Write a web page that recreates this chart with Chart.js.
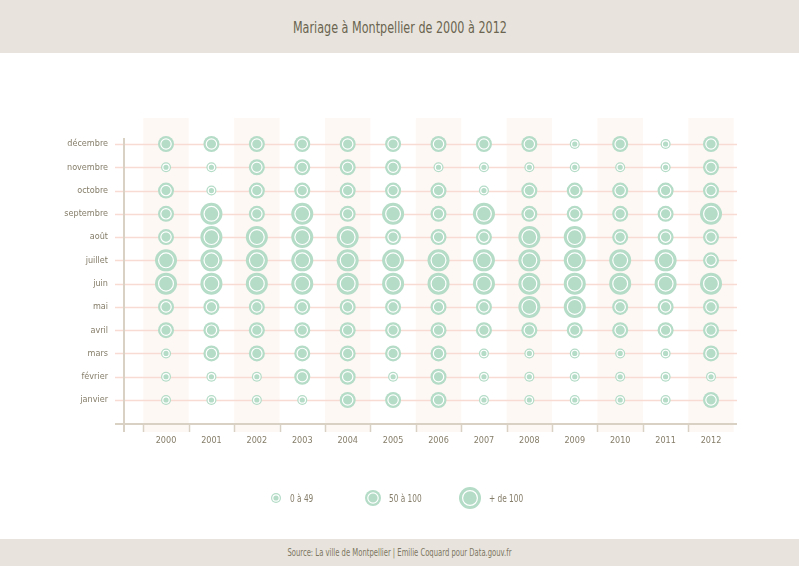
<!DOCTYPE html>
<html lang="fr">
<head>
  <meta charset="UTF-8">
  <title>Mariage à Montpellier de 2000 à 2012</title>
  <script src="https://cdn.jsdelivr.net/npm/chart.js"></script>
  <style>
    body { margin: 0; width: 799px; height: 566px; overflow: hidden; background: #fff;
           font-family: 'DejaVu Sans Condensed', 'DejaVu Sans', sans-serif; }
    #entete { height: 53px; background: #e8e4dd; color: #6b6450; text-align: center; }
    #entete span { display: inline-block; font-size: 15px; line-height: 56px; transform: scaleX(0.83); }
    #graphe { position: relative; width: 799px; height: 486px; }
    #pied { height: 27px; background: #e8e4dd; color: #7d7662; text-align: center; }
    #pied span { display: inline-block; font-size: 10px; line-height: 27px; transform: scaleX(0.76); }
  </style>
</head>
<body>
  <div id="entete"><span>Mariage à Montpellier de 2000 à 2012</span></div>
  <div id="graphe"><canvas id="mariages"></canvas></div>
  <div id="pied"><span>Source: La ville de Montpellier | Emilie Coquard pour Data.gouv.fr</span></div>

  <script>
    // mois de janvier (0) à décembre (11)
    const mois = ["janvier", "février", "mars", "avril", "mai", "juin", "juillet",
                  "août", "septembre", "octobre", "novembre", "décembre"];
    const annees = ["2000", "2001", "2002", "2003", "2004", "2005", "2006",
                    "2007", "2008", "2009", "2010", "2011", "2012"];
    const classes = ["0 à 49", "50 à 100", "+ de 100"];

    // classe de chaque mois (0 = 0 à 49, 1 = 50 à 100, 2 = + de 100), janvier -> décembre
    const m2000 = [0, 0, 0, 1, 1, 2, 2, 1, 1, 1, 0, 1];
    const m2001 = [0, 0, 1, 1, 1, 2, 2, 2, 2, 0, 0, 1];
    const m2002 = [0, 0, 1, 1, 1, 2, 2, 2, 1, 1, 1, 1];
    const m2003 = [0, 1, 1, 1, 1, 2, 2, 2, 2, 1, 1, 1];
    const m2004 = [1, 1, 1, 1, 1, 2, 2, 2, 1, 1, 1, 1];
    const m2005 = [1, 0, 1, 1, 1, 2, 2, 1, 2, 1, 1, 1];
    const m2006 = [1, 1, 1, 1, 1, 2, 2, 1, 1, 1, 0, 1];
    const m2007 = [0, 0, 0, 1, 1, 2, 2, 1, 2, 0, 0, 1];
    const m2008 = [0, 0, 0, 1, 2, 2, 2, 2, 1, 1, 0, 1];
    const m2009 = [0, 0, 0, 1, 2, 2, 2, 2, 1, 1, 0, 0];
    const m2010 = [0, 0, 0, 1, 1, 2, 2, 1, 1, 1, 0, 1];
    const m2011 = [0, 0, 0, 1, 1, 2, 2, 1, 1, 1, 0, 0];
    const m2012 = [1, 0, 1, 1, 1, 2, 1, 1, 2, 1, 1, 1];
    const parAnnee = [m2000, m2001, m2002, m2003, m2004, m2005, m2006,
                      m2007, m2008, m2009, m2010, m2011, m2012];

    const vert = "#b4dcc7";
    const texte = "#857d69";
    const trait = "#d8d1c4";
    const police = "'DejaVu Sans Condensed', 'DejaVu Sans', sans-serif";
    const rayons = [5, 8, 11];
    const anneau = [3.2, 5.2, 7.4];

    const disques = [];
    const cercles = [];
    parAnnee.forEach((valeurs, i) => {
      valeurs.forEach((c, j) => {
        disques.push({ x: i, y: j, r: rayons[c] });
        cercles.push({ x: i, y: j, r: anneau[c] });
      });
    });

    // bandes, grille et axes dessinés derrière les bulles
    const decor = {
      id: "decor",
      beforeDatasetsDraw(chart) {
        const { ctx, chartArea, scales } = chart;
        const x = scales.x, y = scales.y;
        ctx.save();
        ctx.fillStyle = "#fef8f4";
        annees.forEach((a, i) => {
          if (i % 2) return;
          const g = x.getPixelForValue(i - 0.5), d = x.getPixelForValue(i + 0.5);
          ctx.fillRect(g, chartArea.top, d - g, chartArea.bottom - chartArea.top + 8);
        });
        ctx.strokeStyle = "#f8dcd3";
        ctx.lineWidth = 1.5;
        mois.forEach((m, j) => {
          const py = Math.round(y.getPixelForValue(j)) + 0.5;
          ctx.beginPath();
          ctx.moveTo(chartArea.left - 9, py);
          ctx.lineTo(chartArea.right, py);
          ctx.stroke();
        });
        ctx.strokeStyle = trait;
        ctx.lineWidth = 2;
        ctx.beginPath();
        ctx.moveTo(chartArea.left - 9, chartArea.bottom);
        ctx.lineTo(chartArea.right, chartArea.bottom);
        ctx.moveTo(chartArea.left, y.getPixelForValue(11.26));
        ctx.lineTo(chartArea.left, chartArea.bottom + 8);
        ctx.stroke();
        ctx.lineWidth = 1.5;
        annees.forEach((a, i) => {
          const px = Math.round(x.getPixelForValue(i - 0.5)) + 0.5;
          ctx.beginPath();
          ctx.moveTo(px, chartArea.bottom);
          ctx.lineTo(px, chartArea.bottom + 8);
          ctx.stroke();
        });
        ctx.restore();
      }
    };

    // légende des trois classes
    const legende = {
      id: "legende",
      afterDraw(chart) {
        const { ctx } = chart;
        const centres = [276, 373, 470];
        const ecarts = [14, 16, 19];
        const cy = 445;
        ctx.save();
        ctx.font = "10px " + police;
        ctx.textBaseline = "middle";
        classes.forEach((nom, c) => {
          ctx.fillStyle = vert;
          ctx.beginPath();
          ctx.arc(centres[c], cy, rayons[c], 0, Math.PI * 2);
          ctx.fill();
          ctx.strokeStyle = "#fff";
          ctx.lineWidth = 1.2;
          ctx.beginPath();
          ctx.arc(centres[c], cy, anneau[c], 0, Math.PI * 2);
          ctx.stroke();
          ctx.fillStyle = texte;
          ctx.save();
          ctx.translate(centres[c] + ecarts[c], cy + 1);
          ctx.scale(0.82, 1);
          ctx.fillText(nom, 0, 0);
          ctx.restore();
        });
        ctx.restore();
      }
    };

    new Chart(document.getElementById("mariages"), {
      type: "bubble",
      data: {
        datasets: [
          { data: disques, backgroundColor: vert, borderWidth: 0, order: 2 },
          { data: cercles, backgroundColor: "rgba(0,0,0,0)", borderColor: "#fff", borderWidth: 1.2, order: 1 }
        ]
      },
      options: {
        responsive: true,
        maintainAspectRatio: false,
        animation: false,
        events: [],
        layout: { padding: { top: 65, right: 62, left: 0, bottom: 0 } },
        plugins: { legend: { display: false }, tooltip: { enabled: false } },
        scales: {
          x: {
            type: "linear",
            min: -0.925,
            max: 12.572,
            afterBuildTicks: s => { s.ticks = annees.map((a, i) => ({ value: i })); },
            afterFit: s => { s.height = 115; },
            grid: { display: false, drawTicks: false },
            border: { display: false },
            ticks: {
              autoSkip: false,
              maxRotation: 0,
              padding: 11,
              color: texte,
              font: { family: police, size: 9 },
              callback: v => annees[v]
            }
          },
          y: {
            type: "linear",
            min: -1.031,
            max: 12.117,
            afterBuildTicks: s => { s.ticks = mois.map((m, j) => ({ value: j })); },
            afterFit: s => { s.width = 124; },
            grid: { display: false, drawTicks: false },
            border: { display: false },
            ticks: {
              autoSkip: false,
              padding: 16,
              color: texte,
              font: { family: police, size: 9 },
              callback: v => mois[v]
            }
          }
        }
      },
      plugins: [decor, legende]
    });
  </script>
</body>
</html>
